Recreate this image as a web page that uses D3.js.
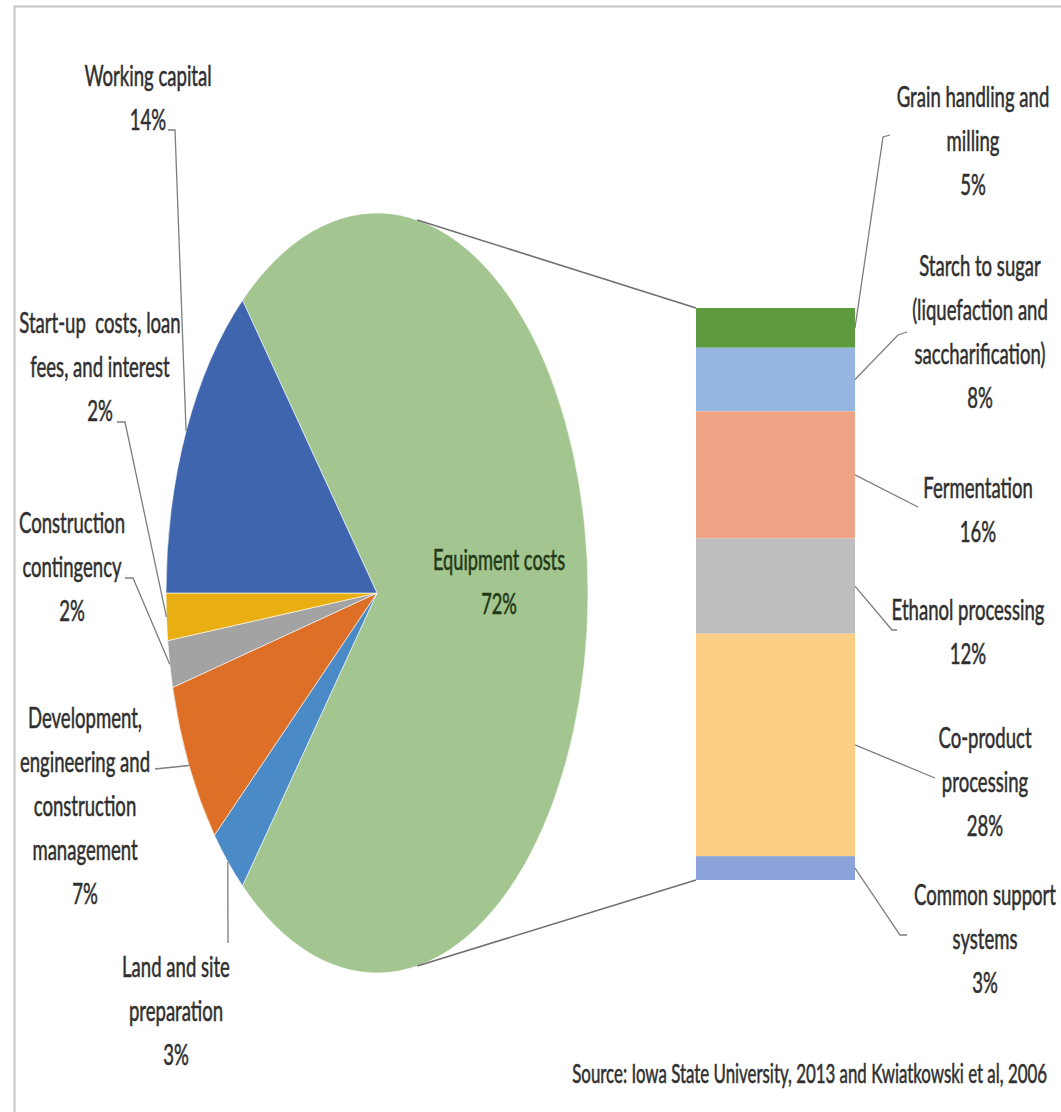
<!DOCTYPE html>
<html>
<head>
<meta charset="utf-8">
<script src="https://cdn.jsdelivr.net/npm/d3@7"></script>
<style>
  html, body { margin: 0; padding: 0; background: #fff; }
  svg { display: block; }
  text { white-space: pre; }
</style>
</head>
<body>
<svg id="chart" width="1061" height="1112"></svg>
<script>
// Ethanol plant capital cost breakdown (pie of bar)
const pieNames = [
  "Equipment costs",
  "Land and site\npreparation",
  "Development,\nengineering and\nconstruction\nmanagement",
  "Construction\ncontingency",
  "Start-up  costs, loan\nfees, and interest",
  "Working capital"
];
const pieValues = [72, 3, 7, 2, 2, 14];
const pieColors = ["#a3c58f", "#4a8ac6", "#de6f27", "#a3a3a3", "#e9af12", "#3f65ae"];

const barNames = [
  "Grain handling and\nmilling",
  "Starch to sugar\n(liquefaction and\nsaccharification)",
  "Fermentation",
  "Ethanol processing",
  "Co-product\nprocessing",
  "Common support\nsystems"
];
const barValues = [5, 8, 16, 12, 28, 3];
const barColors = ["#5e9a3e", "#94b6e0", "#efa486", "#bebebe", "#fdcd85", "#8ba3d8"];

const sourceNote = "Source: Iowa State University, 2013 and Kwiatkowski et al, 2006";

// ---- layout ----
const pieCx = 377, pieCy = 593, pieRx = 211, pieRy = 380;
const barX0 = 696, barX1 = 855, barTop = 308, barBottom = 880;
const lineGap = 44;
const textColor = "#2f2f2f";

// label placement: centre x, first baseline y, leader hook points (label side)
const pieLabelLayout = [
  { x: 499, y: 570, hook: null, inside: true },
  { x: 176, y: 977, hook: [[228, 943]] },
  { x: 85,  y: 728, hook: [[155, 769]] },
  { x: 72,  y: 533, hook: [[125, 578], [133, 578]] },
  { x: 100, y: 333, hook: [[117, 422], [125, 422]] },
  { x: 148, y: 86,  hook: [[168, 130], [175, 130]] }
];
const barLabelLayout = [
  { x: 973, y: 107, hook: [[890, 135], [883, 137]] },
  { x: 980, y: 276, hook: [[907, 332], [898, 335]] },
  { x: 978, y: 498, hook: [[918, 507]] },
  { x: 968, y: 620, hook: [[897, 630], [892, 630]] },
  { x: 985, y: 748, hook: [[935, 778]] },
  { x: 985, y: 905, hook: [[907, 935], [900, 935]] }
];

const svg = d3.select("#chart");

// chart frame
svg.append("rect")
  .attr("x", 14.5).attr("y", 6.5)
  .attr("width", 1100).attr("height", 1200)
  .attr("fill", "#fff")
  .attr("stroke", "#c4c4c4").attr("stroke-width", 2);

// ---- font calibration: condensed, tall lettering ----
const fontFamily = "Lato, 'Open Sans', sans-serif";
const probe = svg.append("text")
  .attr("font-family", fontFamily).attr("font-size", 100)
  .text(sourceNote);
const probeLen = probe.node().getComputedTextLength();
probe.remove();
const fontSize = 100 * 475 / probeLen;
const sy = 20 / (0.72 * fontSize);
const labelScale = 1.1;

function drawText(g, lines, x, y, opts = {}) {
  const k = opts.k || 1;
  lines.forEach((ln, i) => {
    g.append("text")
      .attr("transform", `translate(${x},${y + i * lineGap}) scale(1,${sy / Math.sqrt(k)})`)
      .attr("text-anchor", opts.anchor || "middle")
      .attr("font-family", fontFamily)
      .attr("font-size", fontSize * k)
      .attr("fill", opts.fill || textColor)
      .attr("stroke", opts.fill || textColor)
      .attr("stroke-width", 0.35)
      .text(ln);
  });
}

// ---- pie ----
const R = pieRx;
const share = pieValues[0] / d3.sum(pieValues);
const start = Math.PI / 2 - share * Math.PI; // centre the big slice on the right
const pie = d3.pie().sort(null).value(d => d)
  .startAngle(start).endAngle(start + 2 * Math.PI);
const arcs = pie(pieValues);
const arc = d3.arc().innerRadius(0).outerRadius(R);

const sxPie = pieRx / R, syPie = pieRy / R;
const pieG = svg.append("g")
  .attr("transform", `translate(${pieCx},${pieCy}) scale(${sxPie},${syPie})`);

pieG.selectAll("path")
  .data(arcs)
  .join("path")
  .attr("d", arc)
  .attr("fill", (d, i) => pieColors[i])
  .attr("stroke", "#ffffff")
  .attr("stroke-width", 0.6)
  .attr("vector-effect", "non-scaling-stroke");

function piePoint(angle, r = R) {
  return [pieCx + Math.sin(angle) * r * sxPie, pieCy - Math.cos(angle) * r * syPie];
}

// ---- bar ----
const y = d3.scaleLinear().domain([0, d3.sum(barValues)]).range([barTop, barBottom]);
const stackStarts = d3.cumsum([0, ...barValues]).slice(0, barValues.length);

const barG = svg.append("g");
barG.selectAll("rect")
  .data(barValues)
  .join("rect")
  .attr("x", barX0)
  .attr("width", barX1 - barX0)
  .attr("y", (d, i) => y(stackStarts[i]))
  .attr("height", d => y(d) - y(0))
  .attr("fill", (d, i) => barColors[i]);

// series lines from the pie to the bar
const lineG = svg.append("g").attr("fill", "none");
const topConn = piePoint(11 * Math.PI / 180);
const botConn = piePoint(169 * Math.PI / 180);
lineG.append("path")
  .attr("d", d3.line()([topConn, [barX0, y(0)]]))
  .attr("stroke", "#6f6f6f").attr("stroke-width", 1.6);
lineG.append("path")
  .attr("d", d3.line()([botConn, [barX0, y(d3.sum(barValues))]]))
  .attr("stroke", "#6f6f6f").attr("stroke-width", 1.6);

// ---- leader lines ----
const leaderG = svg.append("g").attr("fill", "none")
  .attr("stroke", "#7e7e7e").attr("stroke-width", 1.3);

arcs.forEach((a, i) => {
  const lay = pieLabelLayout[i];
  if (!lay.hook) return;
  const mid = (a.startAngle + a.endAngle) / 2;
  const pts = [...lay.hook, piePoint(mid)];
  leaderG.append("path").attr("d", d3.line()(pts));
});

barValues.forEach((v, i) => {
  const lay = barLabelLayout[i];
  const midY = y(stackStarts[i] + v / 2);
  const pts = [...lay.hook, [barX1, midY]];
  leaderG.append("path").attr("d", d3.line()(pts));
});

// ---- labels ----
const labelG = svg.append("g");
pieNames.forEach((name, i) => {
  const lay = pieLabelLayout[i];
  const lines = name.split("\n").concat(pieValues[i] + "%");
  drawText(labelG, lines, lay.x, lay.y,
    lay.inside ? { fill: "#1f3816", k: 1.08 } : { k: labelScale });
});
barNames.forEach((name, i) => {
  const lay = barLabelLayout[i];
  const lines = name.split("\n").concat(barValues[i] + "%");
  drawText(labelG, lines, lay.x, lay.y, { k: labelScale });
});

// source note
drawText(labelG, [sourceNote], 1047, 1083, { anchor: "end" });
</script>
</body>
</html>
